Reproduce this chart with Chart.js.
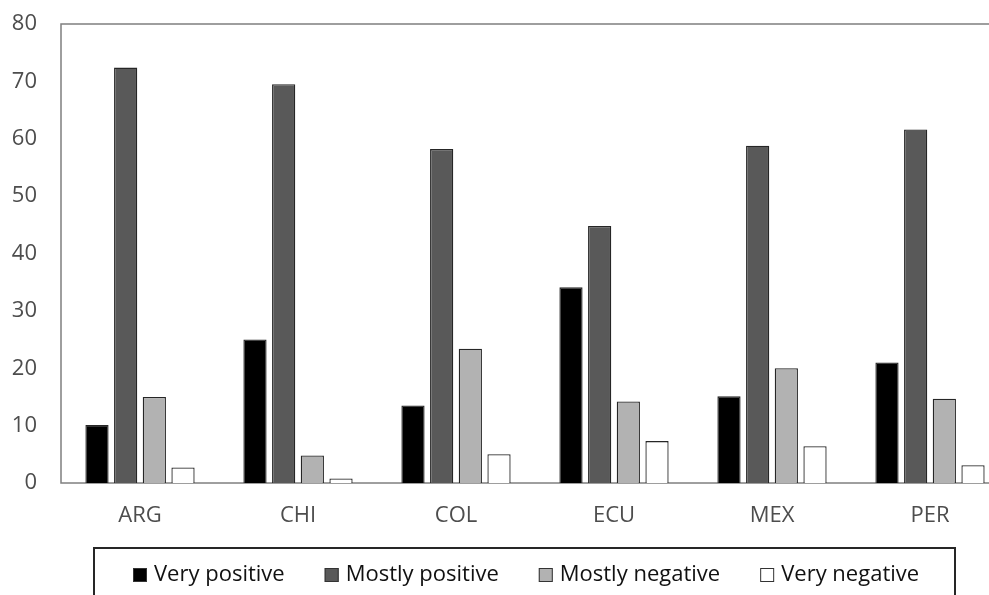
<!DOCTYPE html>
<html>
<head>
<meta charset="utf-8">
<script src="https://cdn.jsdelivr.net/npm/chart.js@4.4.1/dist/chart.umd.min.js"></script>
<style>
  html, body { margin: 0; padding: 0; background: #fff; overflow: hidden; }
  #wrap { width: 1010px; height: 595px; position: relative; }
</style>
</head>
<body>
<div id="wrap"><canvas id="c" width="1010" height="595"></canvas></div>
<script>
// Countries on the category axis
const countries = ['ARG', 'CHI', 'COL', 'ECU', 'MEX', 'PER'];

// Share of respondents (%) per opinion category
const veryPositive   = [10.1, 25.0, 13.5, 34.1, 15.1, 21.0];
const mostlyPositive = [72.4, 69.5, 58.2, 44.8, 58.8, 61.6];
const mostlyNegative = [15.0,  4.8, 23.4, 14.2, 20.0, 14.7];
const veryNegative   = [ 2.7,  0.8,  5.0,  7.3,  6.4,  3.1];

const seriesLabels = ['Very positive', 'Mostly positive', 'Mostly negative', 'Very negative'];
const yTicks = [0, 10, 20, 30, 40, 50, 60, 70, 80];

const FONT = '"Open Sans", "Noto Sans", sans-serif';

// Frame around the plotting area
const framePlugin = {
  id: 'plotFrame',
  beforeDatasetsDraw(chart) {
    const { ctx, chartArea: a } = chart;
    ctx.save();
    ctx.strokeStyle = '#7f7f7f';
    ctx.lineWidth = 1.5;
    ctx.strokeRect(a.left, a.top, a.right - a.left, a.bottom - a.top);
    ctx.restore();
  }
};

// Boxed legend underneath the category labels
const boxedLegend = {
  id: 'boxedLegend',
  afterDraw(chart) {
    const { ctx, chartArea: a } = chart;
    const left = a.left + 33, top = a.bottom + 65, right = 955;
    ctx.save();
    ctx.strokeStyle = '#262626';
    ctx.lineWidth = 2;
    ctx.strokeRect(left, top, right - left, 120);

    ctx.font = '22px ' + FONT;
    ctx.textBaseline = 'middle';
    ctx.textAlign = 'left';
    const cy = top + 27;
    let x = left + 39;
    chart.data.datasets.forEach(ds => {
      ctx.fillStyle = ds.backgroundColor;
      ctx.fillRect(x, cy - 7, 14, 14);
      ctx.strokeStyle = '#333';
      ctx.lineWidth = 1;
      ctx.strokeRect(x + 0.5, cy - 6.5, 13, 13);
      ctx.fillStyle = '#111';
      ctx.fillText(ds.label, x + 21, cy);
      x += 21 + ctx.measureText(ds.label).width + 40;
    });
    ctx.restore();
  }
};

const colors = ['#000000', '#595959', '#b2b2b2', '#ffffff'];
const values = [veryPositive, mostlyPositive, mostlyNegative, veryNegative];

new Chart(document.getElementById('c'), {
  type: 'bar',
  data: {
    labels: countries,
    datasets: seriesLabels.map((lab, i) => ({
      label: lab,
      data: values[i],
      backgroundColor: colors[i],
      borderColor: '#262626',
      borderWidth: 1.3,
      categoryPercentage: 0.726,
      barPercentage: 0.81
    }))
  },
  options: {
    responsive: false,
    animation: false,
    devicePixelRatio: 1,
    layout: { padding: { top: 24, right: 1, left: 0, bottom: 0 } },
    plugins: {
      legend: { display: false },
      tooltip: { enabled: false }
    },
    scales: {
      x: {
        grid: { display: false, drawTicks: false },
        border: { display: false },
        ticks: { color: '#4d4d4d', font: { family: FONT, size: 22 }, padding: 20 },
        afterFit(scale) { scale.height = 112; scale.paddingLeft = 0; scale.paddingRight = 0; }
      },
      y: {
        min: 0,
        max: 80,
        afterBuildTicks(scale) { scale.ticks = yTicks.map(v => ({ value: v })); },
        grid: { display: false, drawTicks: false },
        border: { display: false },
        ticks: { color: '#4d4d4d', font: { family: FONT, size: 22 }, padding: 24 },
        afterFit(scale) { scale.width = 61; scale.paddingTop = 0; scale.paddingBottom = 0; }
      }
    }
  },
  plugins: [framePlugin, boxedLegend]
});
</script>
</body>
</html>
